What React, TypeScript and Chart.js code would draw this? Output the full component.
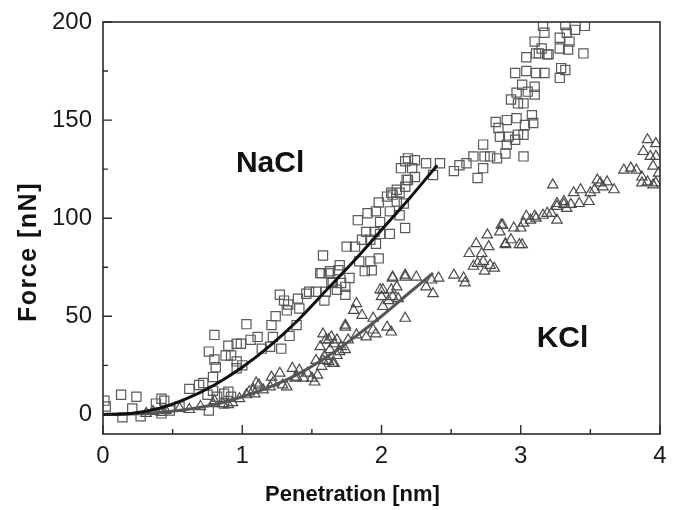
import React, { useEffect, useRef } from 'react';
import { Chart, registerables } from 'chart.js';

Chart.register(...registerables);

// NaCl measured points (open squares)
const naclX = [0.01, 0.02, 0.13, 0.14, 0.21, 0.24, 0.27, 0.38, 0.42, 0.44, 0.42, 0.48, 0.55, 0.62, 0.69, 0.72, 0.75, 0.76, 0.76, 0.79, 0.80, 0.80, 0.81, 0.79, 0.82, 0.87, 0.87, 0.88, 0.90, 0.90, 0.92, 0.92, 0.96, 0.96, 0.96, 0.99, 1.0, 1.03, 1.06, 1.11, 1.14, 1.20, 1.21, 1.22, 1.24, 1.27, 1.28, 1.30, 1.32, 1.33, 1.34, 1.39, 1.40, 1.41, 1.46, 1.48, 1.53, 1.56, 1.57, 1.58, 1.59, 1.60, 1.62, 1.63, 1.64, 1.65, 1.69, 1.68, 1.70, 1.71, 1.74, 1.74, 1.75, 1.77, 1.81, 1.83, 1.84, 1.86, 1.88, 1.89, 1.90, 1.92, 1.92, 1.93, 1.95, 1.96, 1.96, 1.98, 1.98, 1.99, 1.99, 2.04, 2.06, 2.06, 2.07, 2.08, 2.11, 2.11, 2.13, 2.13, 2.14, 2.16, 2.17, 2.17, 2.17, 2.18, 2.19, 2.19, 2.22, 2.24, 2.24, 2.32, 2.37, 2.42, 2.52, 2.56, 2.61, 2.66, 2.69, 2.73, 2.73, 2.74, 2.78, 2.82, 2.83, 2.84, 2.85, 2.89, 2.90, 2.90, 2.91, 2.93, 2.96, 2.96, 2.97, 2.97, 2.98, 2.98, 3.01, 3.02, 3.02, 3.02, 3.03, 3.04, 3.04, 3.05, 3.08, 3.09, 3.10, 3.10, 3.10, 3.11, 3.11, 3.13, 3.15, 3.16, 3.17, 3.17, 3.19, 3.20, 3.28, 3.28, 3.28, 3.29, 3.32, 3.32, 3.33, 3.34, 3.35, 3.39, 3.45, 3.46];
const naclY = [7, 4, 10, -1.5, 3, 9, -1, 5.5, 8, 7, 0.5, 2, 4, 13, 15, 16, 10, 2, 32, 19, 28, 40.5, 24, 12, 9, 10.5, 5.5, 30, 35, 11.5, 30, 9, 36, 23.5, 27, 36, 25, 46, 38, 39.5, 33.5, 34.5, 45.5, 39.5, 50, 61, 33.5, 58, 53, 56, 40, 45.5, 59, 54, 61.5, 62.5, 62.5, 72, 72, 81, 58, 62.5, 72, 73, 67, 67.5, 73.5, 63.5, 76, 67, 61, 65, 85.5, 69.5, 85.5, 99, 78, 89, 73, 93, 102.5, 78, 89, 73.5, 93, 87, 103.5, 79.5, 108, 98, 92, 111, 92, 103.5, 113, 112, 114.5, 108.5, 101.5, 113, 125.5, 107.5, 95, 116, 129, 119.5, 130.5, 119.5, 125.5, 129.5, 121, 128, 122, 128, 124, 127, 128, 131.5, 120.5, 137.5, 125.5, 131.5, 131.5, 149, 130.5, 146, 141.5, 133, 137.5, 150, 141.5, 160.5, 140, 174, 151, 164, 142.5, 158.5, 168, 142.5, 131.5, 158.5, 147.5, 175, 182, 164.5, 152.5, 148.5, 163, 167, 190, 174, 184, 184, 186.5, 198, 174, 194.5, 183.5, 183.5, 186.5, 192, 171.5, 176.5, 175.5, 198.5, 194.5, 186, 190, 196, 184, 198];

// KCl measured points (open triangles)
const kclX = [0.31, 0.36, 0.42, 0.45, 0.55, 0.62, 0.70, 0.79, 0.80, 0.86, 0.90, 0.93, 0.98, 1.03, 1.05, 1.08, 1.09, 1.10, 1.12, 1.15, 1.20, 1.21, 1.22, 1.27, 1.29, 1.32, 1.36, 1.38, 1.39, 1.41, 1.44, 1.47, 1.50, 1.52, 1.53, 1.54, 1.56, 1.57, 1.58, 1.58, 1.59, 1.60, 1.62, 1.62, 1.63, 1.64, 1.65, 1.66, 1.66, 1.68, 1.68, 1.70, 1.71, 1.74, 1.74, 1.74, 1.76, 1.80, 1.82, 1.82, 1.86, 1.89, 1.94, 1.94, 1.96, 1.99, 2.00, 2.01, 2.01, 2.04, 2.05, 2.07, 2.07, 2.08, 2.08, 2.08, 2.11, 2.12, 2.17, 2.17, 2.17, 2.25, 2.32, 2.36, 2.37, 2.41, 2.52, 2.59, 2.60, 2.63, 2.66, 2.68, 2.69, 2.72, 2.73, 2.74, 2.76, 2.77, 2.78, 2.81, 2.85, 2.86, 2.87, 2.89, 2.89, 2.93, 2.95, 2.99, 3.00, 3.01, 3.02, 3.04, 3.07, 3.10, 3.11, 3.16, 3.19, 3.22, 3.23, 3.26, 3.26, 3.26, 3.31, 3.31, 3.33, 3.36, 3.38, 3.42, 3.43, 3.49, 3.50, 3.53, 3.55, 3.57, 3.59, 3.62, 3.67, 3.74, 3.79, 3.83, 3.87, 3.87, 3.88, 3.91, 3.91, 3.93, 3.95, 3.95, 3.97, 3.97, 3.97, 3.99];
const kclY = [0.5, 1.5, 1, 2, 3, 2.5, 4, 5.5, 7, 5.5, 5, 6, 8, 10, 11.5, 12.5, 10.5, 16, 15, 12.5, 14, 19, 16, 21, 15, 14, 23.5, 18.5, 19, 22.5, 18.5, 21, 18.5, 16.5, 27.5, 20, 34.5, 24.5, 41, 27.5, 29.5, 38, 27, 38, 33, 39.5, 26, 36, 26, 30, 38, 32, 34.5, 45.5, 33, 44.5, 38, 53, 40.5, 56.5, 50.5, 39.5, 43, 49, 41, 63.5, 60, 55, 63.5, 44.5, 58, 42, 63.5, 60, 69.5, 70, 65, 59, 49, 70, 71, 70, 65, 68.5, 61.5, 69.5, 71, 69.5, 67, 82, 75.5, 87, 77, 82, 78, 73, 91.5, 85.5, 76, 74.5, 93, 96.5, 96.5, 86.5, 87, 89, 95, 86.5, 95, 86.5, 97.5, 101, 99, 101, 100, 101.5, 102.5, 102.5, 117, 106, 99, 107.5, 107, 108.5, 105, 107, 113, 107.5, 114.5, 108.5, 113, 114.5, 119.5, 118, 116, 118.5, 114.5, 124.5, 125.5, 124.5, 121, 118, 134, 140, 118.5, 131.5, 126.5, 117, 138, 131.5, 118, 123];

// Fitted curves
const naclFitX = [0, 0.2, 0.4, 0.6, 0.8, 1.0, 1.2, 1.4, 1.6, 1.8, 2.0, 2.2, 2.4];
const naclFitY = [0, 0.5, 3, 8, 15, 24, 35, 48, 63, 78, 94, 110, 127];
const kclFitX = [0, 0.2, 0.4, 0.6, 0.8, 1.0, 1.2, 1.4, 1.6, 1.8, 2.0, 2.2, 2.37];
const kclFitY = [0, 0.2, 1, 2.5, 5, 9, 14, 20.5, 29, 39, 50, 62, 72];

// Axis ticks
const xTicks = [0, 1, 2, 3, 4];
const xMinorTicks = [0.5, 1.5, 2.5, 3.5];
const yTicks = [0, 50, 100, 150, 200];
const yMinorTicks = [25, 75, 125, 175];

// Annotation labels
const seriesLabels = [
  { text: 'NaCl', x: 1.2, y: 128 },
  { text: 'KCl', x: 3.3, y: 38.5 },
];

const FONT = '"Liberation Sans", Arial, Helvetica, sans-serif';

const pts = (xs: number[], ys: number[]) => xs.map((x, i) => ({ x, y: ys[i] }));

const decorPlugin = {
  id: 'decor',
  afterDatasetsDraw(chart: any) {
    const { ctx, chartArea: a, scales } = chart;
    const xs = scales.x;
    const ys = scales.y;
    ctx.save();
    // frame
    ctx.strokeStyle = '#2a2a2a';
    ctx.lineWidth = 1.6;
    ctx.strokeRect(a.left, a.top, a.right - a.left, a.bottom - a.top);
    // inward ticks
    ctx.lineWidth = 1.4;
    ctx.beginPath();
    xTicks.forEach((v) => {
      const px = xs.getPixelForValue(v);
      ctx.moveTo(px, a.bottom);
      ctx.lineTo(px, a.bottom - 9);
    });
    xMinorTicks.forEach((v) => {
      const px = xs.getPixelForValue(v);
      ctx.moveTo(px, a.bottom);
      ctx.lineTo(px, a.bottom - 5);
    });
    yTicks.forEach((v) => {
      const py = ys.getPixelForValue(v);
      ctx.moveTo(a.left, py);
      ctx.lineTo(a.left + 9, py);
    });
    yMinorTicks.forEach((v) => {
      const py = ys.getPixelForValue(v);
      ctx.moveTo(a.left, py);
      ctx.lineTo(a.left + 5, py);
    });
    ctx.stroke();

    // series labels
    ctx.fillStyle = '#111';
    ctx.font = `bold 30px ${FONT}`;
    ctx.textAlign = 'center';
    ctx.textBaseline = 'middle';
    seriesLabels.forEach((l) => {
      ctx.fillText(l.text, xs.getPixelForValue(l.x), ys.getPixelForValue(l.y));
    });

    // axis titles
    ctx.font = `bold 22px ${FONT}`;
    ctx.textBaseline = 'alphabetic';
    ctx.fillText('Penetration [nm]', (a.left + a.right) / 2 - 29, 501);
    ctx.save();
    ctx.translate(29, (a.top + a.bottom) / 2 + 24);
    ctx.rotate(-Math.PI / 2);
    ctx.textBaseline = 'middle';
    ctx.font = `bold 25px ${FONT}`;
    try {
      (ctx as any).letterSpacing = '1.5px';
    } catch (e) {
      /* ignore */
    }
    ctx.fillText('Force [nN]', 0, 0);
    ctx.restore();
    ctx.restore();
  },
};

export default function App() {
  const ref = useRef<HTMLCanvasElement>(null);
  useEffect(() => {
    if (!ref.current) return;
    const chart = new Chart(ref.current, {
      type: 'scatter',
      data: {
        datasets: [
          {
            label: 'NaCl fit',
            data: pts(naclFitX, naclFitY),
            showLine: true,
            borderColor: '#111',
            borderWidth: 3,
            pointRadius: 0,
            cubicInterpolationMode: 'monotone',
            order: 0,
          },
          {
            label: 'KCl fit',
            data: pts(kclFitX, kclFitY),
            showLine: true,
            borderColor: '#555',
            borderWidth: 3,
            pointRadius: 0,
            cubicInterpolationMode: 'monotone',
            order: 0,
          },
          {
            label: 'NaCl',
            data: pts(naclX, naclY),
            pointStyle: 'rect',
            pointRadius: 6.5,
            pointBorderWidth: 1.2,
            pointBorderColor: '#5a5a5a',
            pointBackgroundColor: 'rgba(0,0,0,0)',
            clip: 0,
            order: 1,
          },
          {
            label: 'KCl',
            data: pts(kclX, kclY),
            pointStyle: 'triangle',
            pointRadius: 6,
            pointBorderWidth: 1.2,
            pointBorderColor: '#4a4a4a',
            pointBackgroundColor: 'rgba(0,0,0,0)',
            clip: 0,
            order: 1,
          },
        ] as any,
      },
      options: {
        responsive: false,
        animation: false,
        layout: { padding: { left: 0, right: 14, top: 22, bottom: 0 } },
        plugins: { legend: { display: false }, tooltip: { enabled: false } },
        scales: {
          x: {
            type: 'linear',
            min: 0,
            max: 4,
            grid: { display: false, drawTicks: false },
            border: { display: false },
            ticks: {
              stepSize: 1,
              padding: 8,
              color: '#1a1a1a',
              font: { family: FONT, size: 24 },
            },
            afterBuildTicks: (s: any) => {
              s.ticks = xTicks.map((v) => ({ value: v }));
            },
            afterFit: (s: any) => {
              s.height = 76;
              s.paddingLeft = 0;
              s.paddingRight = 0;
            },
          },
          y: {
            type: 'linear',
            min: -10,
            max: 200,
            grid: { display: false, drawTicks: false },
            border: { display: false },
            ticks: {
              padding: 11,
              color: '#1a1a1a',
              font: { family: FONT, size: 24 },
            },
            afterBuildTicks: (s: any) => {
              s.ticks = yTicks.map((v) => ({ value: v }));
            },
            afterFit: (s: any) => {
              s.width = 103;
              s.paddingTop = 0;
              s.paddingBottom = 0;
            },
          },
        },
      } as any,
      plugins: [decorPlugin],
    });
    return () => chart.destroy();
  }, []);
  return (
    <div style={{ position: 'fixed', left: 0, top: 0, width: 674, height: 510 }}>
      <canvas ref={ref} width={674} height={510} style={{ display: 'block' }} />
    </div>
  );
}
